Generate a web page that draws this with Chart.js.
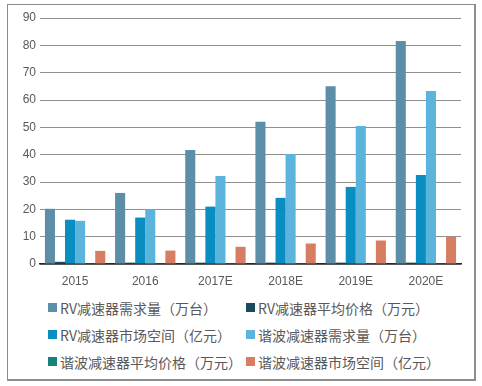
<!DOCTYPE html>
<html>
<head>
<meta charset="utf-8">
<script src="https://cdn.jsdelivr.net/npm/chart.js@4/dist/chart.umd.min.js"></script>
<style>
  body {margin: 0; background: #fff;}
  #box {position: absolute; left: 7px; top: 4px; width: 466px; height: 374px; border: 1px solid #8c8c8c; border-right-width: 2px; border-bottom-width: 2px;}
  #wrap {position: absolute; left: 0; top: 0; width: 466px; height: 290px;}
  #legend {position: absolute; left: 40px; top: 292px; display: grid; grid-template-columns: 198px 210px; row-gap: 6px;
    font-family: "Noto Sans CJK SC", sans-serif; font-size: 14px; color: #595959;}
  #legend div {display: flex; align-items: center; height: 21px; white-space: nowrap;}
  #legend span.sw {display: inline-block; width: 9px; height: 9px; margin-right: 3px;}
</style>
</head>
<body>
<div id="box">
  <div id="wrap"><canvas id="chart"></canvas></div>
  <div id="legend"></div>
</div>
<script>
const years = ['2015', '2016', '2017E', '2018E', '2019E', '2020E'];
const rvDemand = [20.2, 26, 41.7, 52, 65, 81.6];
const rvPrice = [0.8, 0.5, 0.5, 0.5, 0.5, 0.5];
const rvMarket = [16.2, 17, 21, 24.2, 28.2, 32.6];
const hwDemand = [15.8, 20, 32.2, 40.2, 50.5, 63.3];
const hwPrice = [0.3, 0.3, 0.3, 0.3, 0.3, 0.3];
const hwMarket = [4.8, 4.9, 6.3, 7.5, 8.6, 10];
const yTicks = [0, 10, 20, 30, 40, 50, 60, 70, 80, 90];

const names = ['RV减速器需求量（万台）', 'RV减速器平均价格（万元）', 'RV减速器市场空间（亿元）',
  '谐波减速器需求量（万台）', '谐波减速器平均价格（万元）', '谐波减速器市场空间（亿元）'];
const colors = ['#5d8ea8', '#1b4a5f', '#0a8ec2', '#5bb4dc', '#16827a', '#d67d62'];
const series = [rvDemand, rvPrice, rvMarket, hwDemand, hwPrice, hwMarket];

const data = {
    labels: years,
    datasets: series.map((s, i) => ({
        label: names[i],
        data: s,
        backgroundColor: colors[i],
        categoryPercentage: 0.86,
        barPercentage: 1
    }))
};

const config = {
    type: 'bar',
    data: data,
    options: {
        responsive: true,
        maintainAspectRatio: false,
        animation: false,
        layout: {padding: {top: 13, right: 13, left: 0, bottom: 0}},
        plugins: {
            legend: {display: false},
            tooltip: {enabled: false}
        },
        scales: {
            x: {
                grid: {display: false},
                border: {color: '#262626', width: 1.5},
                ticks: {color: '#595959', font: {family: '"Liberation Sans", Arial', size: 12}, padding: 2},
                afterFit: (s) => { s.height = 31; }
            },
            y: {
                min: 0, max: 90,
                afterBuildTicks: (s) => { s.ticks = yTicks.map(v => ({value: v})); },
                grid: {color: '#8f8f8f', drawTicks: false},
                border: {display: false},
                ticks: {color: '#595959', font: {family: '"Liberation Sans", Arial', size: 12}, padding: 4},
                afterFit: (s) => { s.width = 32; }
            }
        }
    }
};

const chart = new Chart(document.getElementById('chart'), config);

const legend = document.getElementById('legend');
chart.data.datasets.forEach(ds => {
    const item = document.createElement('div');
    item.innerHTML = '<span class="sw" style="background:' + ds.backgroundColor + '"></span>' + ds.label;
    legend.appendChild(item);
});
</script>
</body>
</html>
